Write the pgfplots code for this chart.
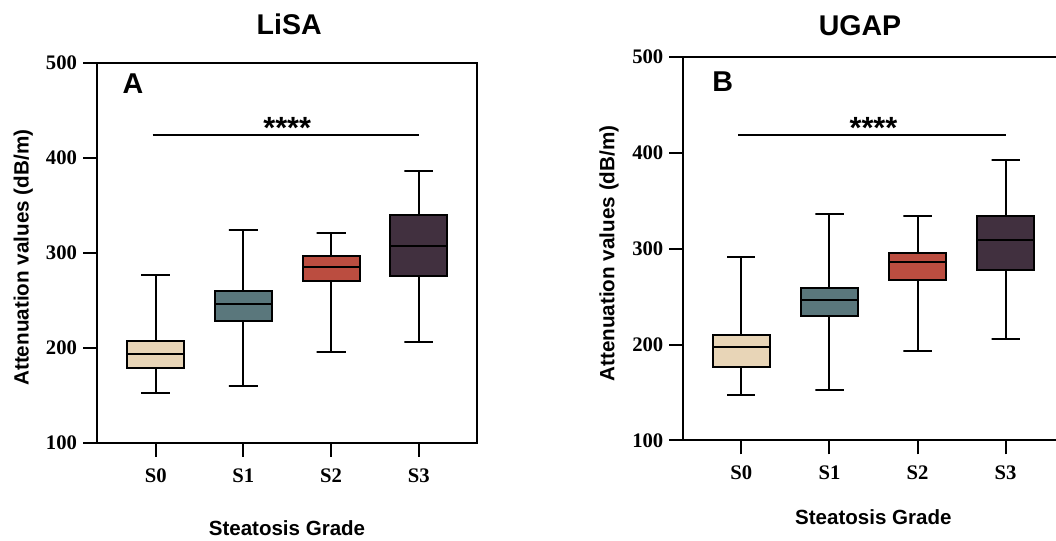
\documentclass[border=0pt]{standalone}
\usepackage{fontspec}
\setmainfont{Liberation Sans}
\newfontfamily\tnr{Liberation Serif}
\usepackage{pgfplots}
\pgfplotsset{compat=1.18}

\definecolor{cS0}{HTML}{E8D5B7}
\definecolor{cS1}{HTML}{5A777C}
\definecolor{cS2}{HTML}{BB4D40}
\definecolor{cS3}{HTML}{41303F}

\pgfplotsset{
  panel/.style={
    scale only axis,
    ymin=100, ymax=500,
    ytick={100,200,300,400,500},
    xtick={0,1,2,3},
    xticklabels={S0,S1,S2,S3},
    tick pos=left,
    tick align=outside,
    major tick length=10.5pt,
    axis line style={line width=1.5pt},
    every tick/.style={line width=1.5pt, black},
    ticklabel style={font=\tnr\bfseries\fontsize{15.5}{16}\selectfont},
    /pgf/number format/assume math mode=true,
    yticklabel style={xshift=-1pt},
    xticklabel style={yshift=-5pt},
    clip=false,
  },
  wh/.style={black, line width=1.5pt, mark=none},
  bx/.style={draw=black, line width=1.5pt, mark=none, fill=#1},
}

\begin{document}
\begin{tikzpicture}
% LiSA: box half width 0.325, cap half width 0.165
\begin{axis}[panel, at={(72.75pt,73.5pt)}, anchor=south west,
  width=285pt, height=285pt, xmin=-0.669, xmax=3.664]
% S0
\addplot[wh] coordinates {(0,207.7) (0,276.5) (-0.165,276.5) (0.165,276.5)};
\addplot[wh] coordinates {(0,178.6) (0,152.3) (-0.165,152.3) (0.165,152.3)};
\addplot[bx=cS0] coordinates {(-0.325,178.6) (0.325,178.6) (0.325,207.7) (-0.325,207.7)} -- cycle;
\addplot[wh] coordinates {(-0.325,193.7) (0.325,193.7)};
% S1
\addplot[wh] coordinates {(1,260.3) (1,323.9) (0.835,323.9) (1.165,323.9)};
\addplot[wh] coordinates {(1,228.1) (1,160.3) (0.835,160.3) (1.165,160.3)};
\addplot[bx=cS1] coordinates {(0.675,228.1) (1.325,228.1) (1.325,260.3) (0.675,260.3)} -- cycle;
\addplot[wh] coordinates {(0.675,246.7) (1.325,246.7)};
% S2
\addplot[wh] coordinates {(2,296.8) (2,320.7) (1.835,320.7) (2.165,320.7)};
\addplot[wh] coordinates {(2,270.5) (2,195.8) (1.835,195.8) (2.165,195.8)};
\addplot[bx=cS2] coordinates {(1.675,270.5) (2.325,270.5) (2.325,296.8) (1.675,296.8)} -- cycle;
\addplot[wh] coordinates {(1.675,284.9) (2.325,284.9)};
% S3
\addplot[wh] coordinates {(3,340.0) (3,386.0) (2.835,386.0) (3.165,386.0)};
\addplot[wh] coordinates {(3,275.8) (3,206.6) (2.835,206.6) (3.165,206.6)};
\addplot[bx=cS3] coordinates {(2.675,275.8) (3.325,275.8) (3.325,340.0) (2.675,340.0)} -- cycle;
\addplot[wh] coordinates {(2.675,307.0) (3.325,307.0)};
% significance bar
\addplot[wh] coordinates {(-0.035,424.6) (3,424.6)};
\node[font=\bfseries\fontsize{23}{23}\selectfont] at (axis cs:1.5,431.5) {****};
\node[font=\bfseries\fontsize{21.5}{22}\selectfont] at (axis cs:-0.26,477.9) {A};
\end{axis}
% UGAP: box half width 0.32, cap half width 0.16
\begin{axis}[panel, at={(512.5pt,75.4pt)}, anchor=south west,
  width=285.6pt, height=287.6pt, xmin=-0.658, xmax=3.664]
% S0
\addplot[wh] coordinates {(0,210.1) (0,291.2) (-0.16,291.2) (0.16,291.2)};
\addplot[wh] coordinates {(0,176.3) (0,147.0) (-0.16,147.0) (0.16,147.0)};
\addplot[bx=cS0] coordinates {(-0.32,176.3) (0.32,176.3) (0.32,210.1) (-0.32,210.1)} -- cycle;
\addplot[wh] coordinates {(-0.32,197.9) (0.32,197.9)};
% S1
\addplot[wh] coordinates {(1,258.8) (1,335.8) (0.84,335.8) (1.16,335.8)};
\addplot[wh] coordinates {(1,229.6) (1,152.7) (0.84,152.7) (1.16,152.7)};
\addplot[bx=cS1] coordinates {(0.68,229.6) (1.32,229.6) (1.32,258.8) (0.68,258.8)} -- cycle;
\addplot[wh] coordinates {(0.68,247.0) (1.32,247.0)};
% S2
\addplot[wh] coordinates {(2,295.8) (2,334.0) (1.84,334.0) (2.16,334.0)};
\addplot[wh] coordinates {(2,266.9) (2,193.4) (1.84,193.4) (2.16,193.4)};
\addplot[bx=cS2] coordinates {(1.68,266.9) (2.32,266.9) (2.32,295.8) (1.68,295.8)} -- cycle;
\addplot[wh] coordinates {(1.68,286.0) (2.32,286.0)};
% S3
\addplot[wh] coordinates {(3,333.8) (3,392.6) (2.84,392.6) (3.16,392.6)};
\addplot[wh] coordinates {(3,277.3) (3,205.5) (2.84,205.5) (3.16,205.5)};
\addplot[bx=cS3] coordinates {(2.68,277.3) (3.32,277.3) (3.32,333.8) (2.68,333.8)} -- cycle;
\addplot[wh] coordinates {(2.68,308.7) (3.32,308.7)};
% significance bar
\addplot[wh] coordinates {(-0.035,418.7) (3,418.7)};
\node[font=\bfseries\fontsize{23}{23}\selectfont] at (axis cs:1.5,425.5) {****};
\node[font=\bfseries\fontsize{21.5}{22}\selectfont] at (axis cs:-0.21,474.3) {B};
\end{axis}
% titles and axis labels
\node[font=\bfseries\fontsize{21.4}{22}\selectfont] at (216.9pt,387.6pt) {LiSA};
\node[font=\bfseries\fontsize{21.4}{22}\selectfont] at (645pt,386.4pt) {UGAP};
\node[font=\bfseries\fontsize{15.5}{16}\selectfont, rotate=90] at (17.55pt,212.5pt) {Attenuation values (dB/m)};
\node[font=\bfseries\fontsize{15.5}{16}\selectfont, rotate=90] at (456.75pt,215.6pt) {Attenuation values (dB/m)};
\node[font=\bfseries\fontsize{15.4}{16}\selectfont] at (215.25pt,10pt) {Steatosis Grade};
\node[font=\bfseries\fontsize{15.4}{16}\selectfont] at (655pt,18pt) {Steatosis Grade};
\pgfresetboundingbox
\path[use as bounding box] (0,0) rectangle (792pt,405.75pt);
\end{tikzpicture}
\end{document}
